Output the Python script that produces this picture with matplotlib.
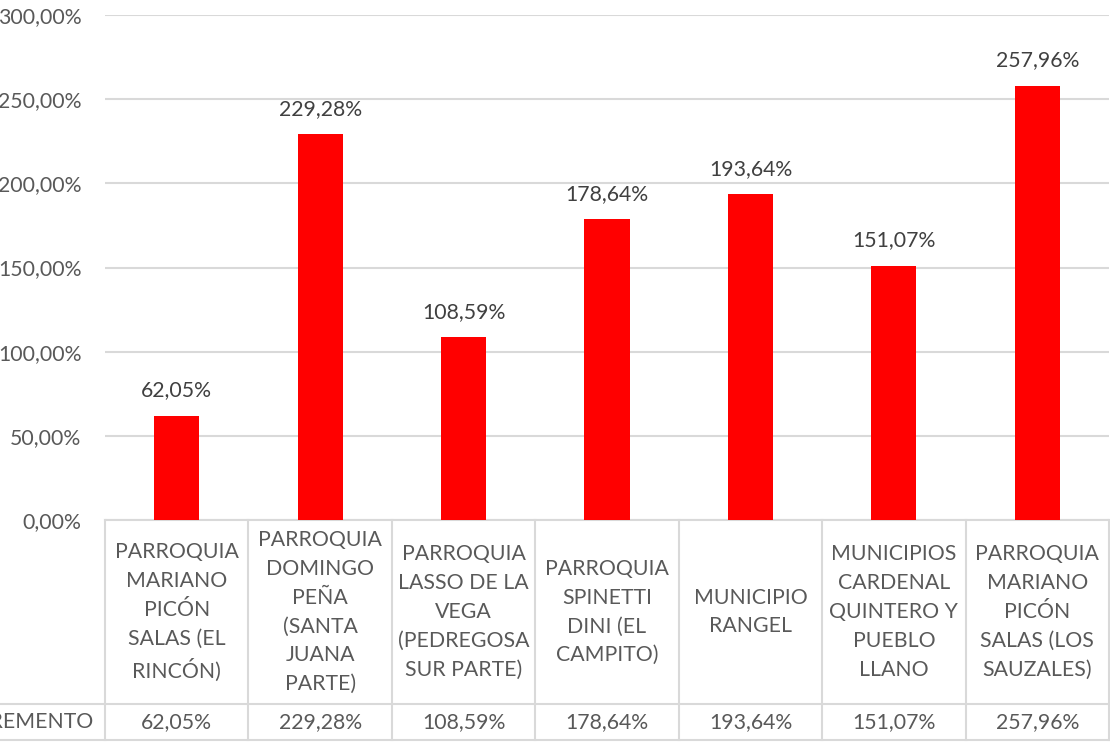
import matplotlib
matplotlib.use("Agg")
import matplotlib.pyplot as plt
from matplotlib.lines import Line2D

# data
categorias = [
    "PARROQUIA\nMARIANO\nPICÓN\nSALAS (EL\nRINCÓN)",
    "PARROQUIA\nDOMINGO\nPEÑA\n(SANTA\nJUANA\nPARTE)",
    "PARROQUIA\nLASSO DE LA\nVEGA\n(PEDREGOSA\nSUR PARTE)",
    "PARROQUIA\nSPINETTI\nDINI (EL\nCAMPITO)",
    "MUNICIPIO\nRANGEL",
    "MUNICIPIOS\nCARDENAL\nQUINTERO Y\nPUEBLO\nLLANO",
    "PARROQUIA\nMARIANO\nPICÓN\nSALAS (LOS\nSAUZALES)",
]
incremento = [62.05, 229.28, 108.59, 178.64, 193.64, 151.07, 257.96]
serie = "INCREMENTO"
y_ticks = [0, 50, 100, 150, 200, 250, 300]

plt.rcParams['font.family'] = ['Lato', 'DejaVu Sans']
gris_txt = '#595959'
gris_lin = '#D9D9D9'
fs = 15.3


def pct(v):
    return ("%.2f%%" % v).replace('.', ',')


W, H = 1110, 742
fig = plt.figure(figsize=(W / 100, H / 100), dpi=100)
ax = fig.add_axes([105 / W, (H - 520) / H, (1109 - 105) / W, 505 / H])

x = list(range(len(categorias)))
ax.bar(x, incremento, width=0.315, color='#FF0000', zorder=3)
ax.set_xlim(-0.5, len(categorias) - 0.5)
ax.set_ylim(0, 300)
ax.set_yticks(y_ticks)
ax.set_yticklabels([pct(t) for t in y_ticks])
ax.tick_params(axis='y', length=0, pad=17, labelsize=fs, labelcolor=gris_txt)
ax.set_xticks([])
ax.grid(axis='y', color=gris_lin, linewidth=1.5, zorder=0)
for s in ax.spines.values():
    s.set_visible(False)

# data labels
for xi, v in zip(x, incremento):
    ax.annotate(pct(v), (xi, v), xytext=(0, 11), textcoords='offset points',
                ha='center', va='bottom', fontsize=fs, color='#404040')

# data table under the plot
tr = ax.get_xaxis_transform()
y_top, y_mid, y_bot = 0.0, -(704 - 520) / 505, -(740 - 520) / 505
for i in range(len(categorias) + 1):
    ax.add_line(Line2D([i - 0.5, i - 0.5], [y_top, y_bot], transform=tr,
                       color=gris_lin, lw=1.5, clip_on=False))
ax.add_line(Line2D([-0.5, len(categorias) - 0.5], [y_top, y_top], transform=tr,
                   color=gris_lin, lw=1.5, clip_on=False))
fig.add_artist(Line2D([0, 1], [(H - 704) / H, (H - 704) / H], color=gris_lin, lw=1.5))
fig.add_artist(Line2D([0, 1], [(H - 740) / H, (H - 740) / H], color=gris_lin, lw=1.5))

for xi, cat, v in zip(x, categorias, incremento):
    ax.text(xi, (y_top + y_mid) / 2, cat, transform=tr, ha='center', va='center',
            fontsize=fs, color=gris_txt, linespacing=1.55, clip_on=False)
    ax.text(xi, (y_mid + y_bot) / 2, pct(v), transform=tr, ha='center', va='center',
            fontsize=fs, color=gris_txt, clip_on=False)
fig.text(93 / W, (H - 722) / H, serie, ha='right', va='center', fontsize=fs,
         color=gris_txt)

fig.savefig('out.png', dpi=100)
